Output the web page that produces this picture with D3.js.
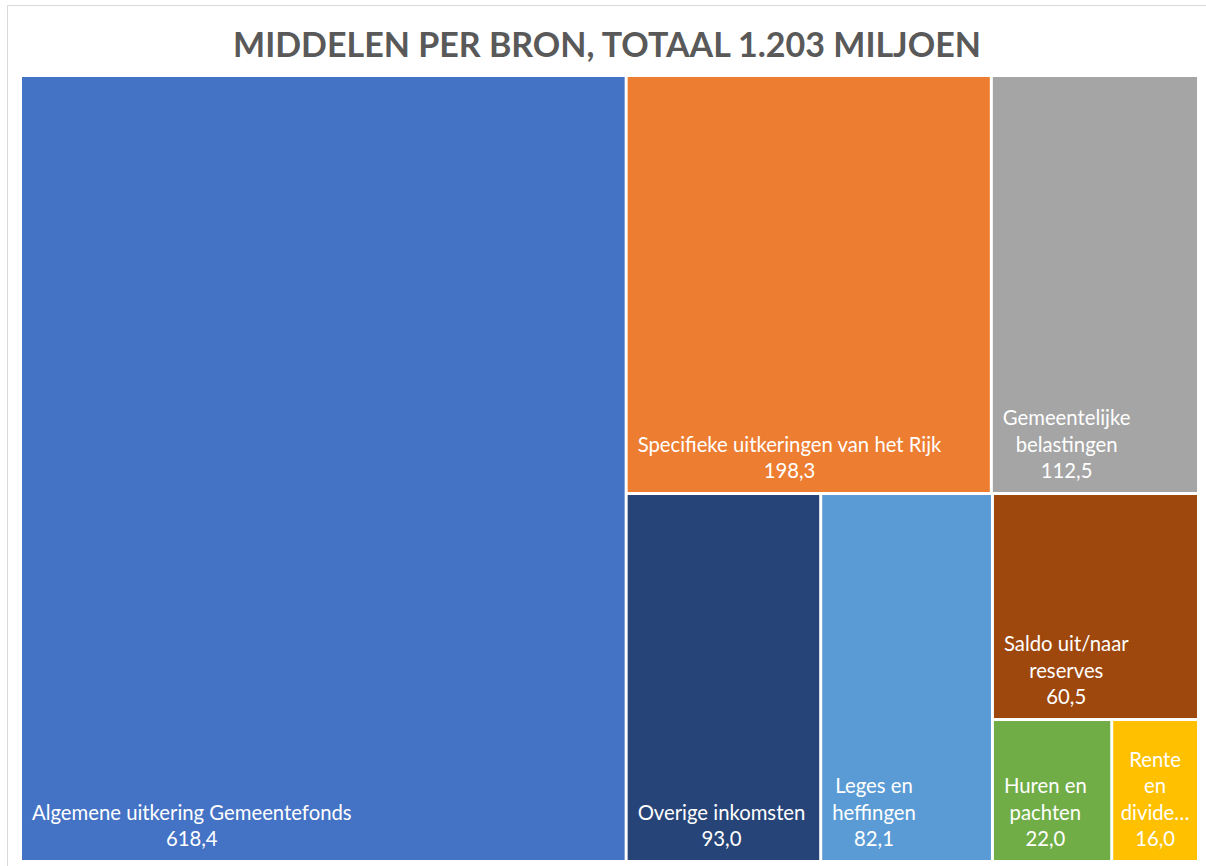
<!DOCTYPE html>
<html>
<head>
<meta charset="utf-8">
<script src="https://cdn.jsdelivr.net/npm/d3@7"></script>
<style>
  body { margin: 0; background: #fff; }
  svg text { font-family: Lato, "Noto Sans", sans-serif; }
</style>
</head>
<body>
<div id="chart"></div>
<script>
// bronnen en bedragen (miljoen)
const categories = [
    "Algemene uitkering Gemeentefonds",
    "Specifieke uitkeringen van het Rijk",
    "Gemeentelijke belastingen",
    "Overige inkomsten",
    "Leges en heffingen",
    "Saldo uit/naar reserves",
    "Huren en pachten",
    "Rente en dividenden"
];
const values = [618.4, 198.3, 112.5, 93.0, 82.1, 60.5, 22.0, 16.0];
const colors = ["#4472C4", "#ED7D31", "#A5A5A5", "#264478", "#5B9BD5", "#9E480E", "#70AD47", "#FFC000"];
const title = "MIDDELEN PER BRON, TOTAAL 1.203 MILJOEN";

// indeling zoals Excel de vakken groepeert (index in de arrays)
const tiling = [0, [[1, 2], [3, 4, [5, [6, 7]]]]];

const W = 1206, H = 866;
const margin = {top: 77, right: 9, bottom: 6, left: 22};
const width = W - margin.left - margin.right;
const height = H - margin.top - margin.bottom;

const svg = d3.select("#chart")
    .append("svg")
    .attr("width", W)
    .attr("height", H);

// kader van de grafiek
svg.append("rect")
    .attr("x", 7.5).attr("y", 5.5)
    .attr("width", W + 10).attr("height", H + 10)
    .attr("fill", "#fff")
    .attr("stroke", "#d9d9d9");

svg.append("text")
    .attr("x", 607)
    .attr("y", 57)
    .attr("text-anchor", "middle")
    .attr("font-size", "34px")
    .attr("font-weight", "bold")
    .attr("fill", "#595959")
    .text(title);

function build(node) {
    if (Array.isArray(node)) return {children: node.map(build)};
    return {name: categories[node], value: values[node], color: colors[node]};
}

const root = d3.hierarchy(build(tiling)).sum(d => d.value || 0);

d3.treemap()
    .tile(d3.treemapSliceDice)
    .size([width, height])
    .paddingInner(3)(root);

const g = svg.append("g")
    .attr("transform", `translate(${margin.left},${margin.top})`);

const cells = g.selectAll("g.cell")
    .data(root.leaves())
    .enter()
    .append("g")
    .attr("class", "cell");

cells.append("rect")
    .attr("x", d => d.x0)
    .attr("y", d => d.y0)
    .attr("width", d => d.x1 - d.x0)
    .attr("height", d => d.y1 - d.y0)
    .attr("fill", d => d.data.color);

const fontSize = 20.3;
const lineH = 26.5;
const fmt = v => v.toFixed(1).replace(".", ",");

// meten van tekstbreedte
const meter = svg.append("text").attr("font-size", fontSize + "px").attr("visibility", "hidden");
const measure = s => { meter.text(s); return meter.node().getComputedTextLength(); };

function wrap(text, maxW) {
    const words = text.split(" ");
    const lines = [];
    let cur = "";
    words.forEach(w => {
        const test = cur ? cur + " " + w : w;
        if (measure(test) <= maxW || !cur) cur = test;
        else { lines.push(cur); cur = w; }
    });
    if (cur) lines.push(cur);
    return lines.map(l => {
        if (measure(l) <= maxW) return l;
        let s = l;
        while (s.length > 1 && measure(s + "…") > maxW) s = s.slice(0, -1);
        return s + "…";
    });
}

cells.each(function(d) {
    const cw = d.x1 - d.x0;
    const lines = wrap(d.data.name, cw - 12);
    lines.push(fmt(d.data.value));
    const blockW = d3.max(lines, measure);
    const cx = d.x0 + Math.min(10, (cw - blockW) / 2) + blockW / 2;
    const lastY = d.y1 - 14;
    d3.select(this).selectAll("text.label")
        .data(lines)
        .enter()
        .append("text")
        .attr("class", "label")
        .attr("x", cx)
        .attr("y", (l, i) => lastY - (lines.length - 1 - i) * lineH)
        .attr("text-anchor", "middle")
        .attr("font-size", fontSize + "px")
        .attr("fill", "#fff")
        .text(l => l);
});

meter.remove();
</script>
</body>
</html>
